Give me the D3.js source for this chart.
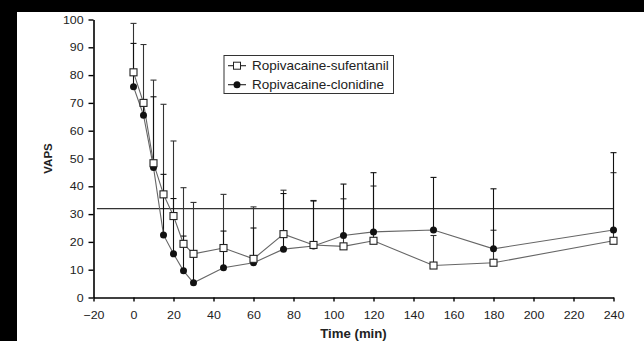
<!DOCTYPE html>
<html><head><meta charset="utf-8">
<script src="https://cdn.jsdelivr.net/npm/d3@7"></script>
<style>body{margin:0;background:#fff}svg{display:block}</style>
</head><body>
<svg id="c" width="644" height="341"></svg>
<script>
const times = [0,5,10,15,20,25,30,45,60,75,90,105,120,150,180,240];
const sufentanil = [81,70,48.3,37.1,29.3,19.3,15.7,17.8,13.9,22.8,18.9,18.4,20.4,11.5,12.5,20.4];
const clonidine  = [75.8,65.6,46.8,22.5,15.7,9.6,5.3,10.7,12.5,17.4,18.5,22.3,23.6,24.3,17.5,24.3];
const sufentanilSD = [17.6,21,29.9,32.4,27,20.2,18.5,19.3,18.7,15.8,16,17.1,19.7,10.8,11.7,24.5];
const clonidineSD  = [15.6,4,25.4,21.8,19.9,12.5,9.7,13.2,12.5,20,16.2,18.5,21.3,18.9,21.6,27.8];
const threshold = 32;
const xTicks = [-20,0,20,40,60,80,100,120,140,160,180,200,220,240];
const yTicks = [0,10,20,30,40,50,60,70,80,90,100];
const seriesNames = ["Ropivacaine-sufentanil","Ropivacaine-clonidine"];

const svg = d3.select("#c");
const font = "Liberation Sans, Arial, sans-serif";
const S = 1.1; // horizontal stretch of text in reference

// black frame bands from the scan
svg.append("rect").attr("x",0).attr("y",0).attr("width",644).attr("height",12).attr("fill","#000");
svg.append("rect").attr("x",0).attr("y",0).attr("width",17).attr("height",341).attr("fill","#000");

const x = d3.scaleLinear().domain([-20,240]).range([93.5,613.5]);
const y = d3.scaleLinear().domain([0,100]).range([297.5,19.5]);

// axes
const gx = svg.append("g").attr("transform",`translate(0,${y(0)})`)
  .call(d3.axisBottom(x).tickValues(xTicks).tickSize(4).tickSizeOuter(0).tickPadding(9));
const gy = svg.append("g").attr("transform",`translate(${x(-20)},0)`)
  .call(d3.axisLeft(y).tickValues(yTicks).tickSize(5).tickSizeOuter(0).tickPadding(4));
[gx,gy].forEach(g=>{
  g.select(".domain").attr("stroke","#000").attr("stroke-width",1.6);
  g.selectAll(".tick line").attr("stroke","#000").attr("stroke-width",1.4);
  g.selectAll("text").attr("font-family",font).attr("font-size",11.3).attr("fill","#222");
});
gx.selectAll(".tick text").attr("transform",`scale(${S},1)`);
gy.selectAll(".tick text").attr("transform",`scale(${S},1)`);

// reference line
svg.append("line").attr("x1",x(-18.3)).attr("x2",x(240)).attr("y1",y(threshold)).attr("y2",y(threshold))
  .attr("stroke","#333").attr("stroke-width",1.2);

const sufData = times.map((t,i)=>({t,v:sufentanil[i],sd:sufentanilSD[i]}));
const cloData = times.map((t,i)=>({t,v:clonidine[i],sd:clonidineSD[i]}));

// error bars (upper only)
function bars(data,col){
  const g = svg.append("g").attr("stroke",col).attr("stroke-width",1.1);
  g.selectAll("line.v").data(data).join("line").attr("class","v")
    .attr("x1",d=>x(d.t)).attr("x2",d=>x(d.t)).attr("y1",d=>y(d.v)).attr("y2",d=>y(d.v+d.sd));
  g.selectAll("line.c").data(data).join("line").attr("class","c")
    .attr("x1",d=>x(d.t)-3).attr("x2",d=>x(d.t)+3).attr("y1",d=>y(d.v+d.sd)).attr("y2",d=>y(d.v+d.sd));
}
bars(sufData,"#333");
bars(cloData,"#111");

const line = d3.line().x(d=>x(d.t)).y(d=>y(d.v));
svg.append("path").datum(sufData).attr("d",line).attr("fill","none").attr("stroke","#666").attr("stroke-width",1.1);
svg.append("path").datum(cloData).attr("d",line).attr("fill","none").attr("stroke","#666").attr("stroke-width",1.1);

svg.append("g").selectAll("circle").data(cloData).join("circle")
  .attr("cx",d=>x(d.t)).attr("cy",d=>y(d.v)).attr("r",3.5).attr("fill","#111");
svg.append("g").selectAll("rect").data(sufData).join("rect")
  .attr("x",d=>x(d.t)-3.5).attr("y",d=>y(d.v)-3.5).attr("width",7).attr("height",7)
  .attr("fill","#fff").attr("stroke","#222").attr("stroke-width",1.1);

// axis titles
svg.append("text").attr("transform",`translate(${x(110)},337.5) scale(${S},1)`).attr("text-anchor","middle")
  .attr("font-family",font).attr("font-weight","bold").attr("font-size",12).attr("fill","#222").text("Time (min)");
svg.append("text").attr("transform",`translate(51.5,${y(50)}) rotate(-90)`).attr("text-anchor","middle")
  .attr("font-family",font).attr("font-weight","bold").attr("font-size",11.5).attr("fill","#222").text("VAPS");

// legend
const lg = svg.append("g");
lg.append("rect").attr("x",224).attr("y",55.5).attr("width",169.5).attr("height",38)
  .attr("fill","#fff").attr("stroke","#333").attr("stroke-width",1);
const rows = [65.7,84.7];
seriesNames.forEach((name,i)=>{
  const cy = rows[i];
  lg.append("line").attr("x1",228).attr("x2",246).attr("y1",cy).attr("y2",cy).attr("stroke","#222").attr("stroke-width",1.1);
  if(i===0) lg.append("rect").attr("x",233.5).attr("y",cy-3.5).attr("width",7).attr("height",7).attr("fill","#fff").attr("stroke","#222");
  else lg.append("circle").attr("cx",237).attr("cy",cy).attr("r",3.5).attr("fill","#111");
  lg.append("text").attr("transform",`translate(252,${cy+4.4}) scale(${S},1)`)
    .attr("font-family",font).attr("font-size",12.3).attr("fill","#222").text(name);
});
</script>
</body></html>
